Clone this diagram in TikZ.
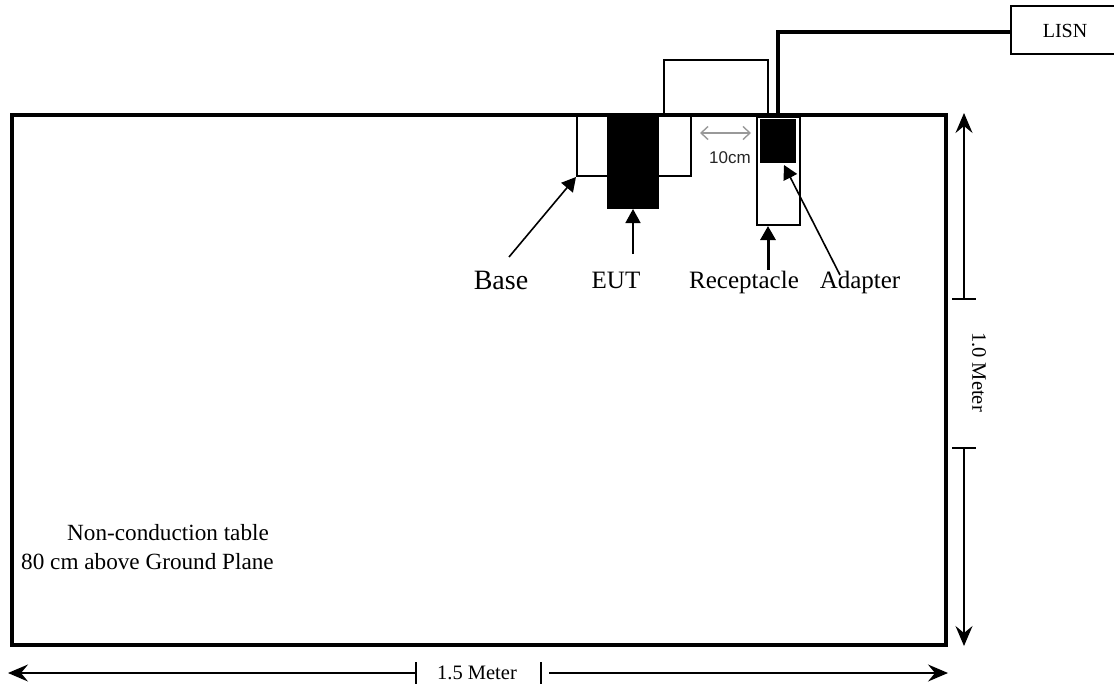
\documentclass[tikz,border=0pt]{standalone}
\usepackage{fontspec}
\setmainfont{Liberation Serif}
\newfontfamily\arialfont{Liberation Sans}
\usetikzlibrary{arrows.meta,calc}
\begin{document}
\begin{tikzpicture}[x=1pt,y=-1pt,
  box/.style={draw, line width=2pt, inner sep=0pt, anchor=north west},
  blk/.style={fill=black, draw=black, line width=1pt, inner sep=0pt, anchor=north west},
  lbl/.style={font=\fontsize{25}{30}\selectfont, inner sep=0pt, anchor=base},
  txt/.style={font=\fontsize{23.2}{27}\selectfont, inner sep=0pt},
  dimtxt/.style={font=\fontsize{20.5}{24}\selectfont, inner sep=0pt},
  ptr/.style={line width=1.6pt, -{Triangle[length=14pt,width=15pt]}},
  dimarrow/.style={line width=1.3pt, -{Stealth[length=20pt,width=17pt,inset=7pt]}},
  tick/.style={line width=1.3pt}]
\useasboundingbox (0,0) rectangle (1114,688);
% table
\node[draw, line width=3.5pt, minimum width=934pt, minimum height=530pt, anchor=north west, inner sep=0pt] (table) at (10,113) {};
% loop over table edge
\draw[line width=2pt] (664,113) |- (768,60) -- (768,113);
% base and EUT
\node[box, minimum width=114pt, minimum height=60pt] (base) at (576,115) {};
\node[blk, minimum width=51pt, minimum height=93pt] (eut) at (607,115) {};
% receptacle and adapter
\node[box, minimum width=43pt, minimum height=108pt] (rec) at (756,116) {};
\node[blk, minimum width=35pt, minimum height=43pt] (adp) at (760,119) {};
% LISN
\node[draw, line width=1.5pt, minimum width=130pt, minimum height=48pt, anchor=north west, inner sep=0pt] (lisnbox) at (1010,5) {};
\node[font=\fontsize{20}{23}\selectfont, inner sep=0pt] (lisn) at (1065,31) {LISN};
\coordinate (cordend) at ($(lisnbox.north west)+(0,27)$);
\draw[line width=3.5pt] (778,113) |- (cordend);
% 10cm
\coordinate (gl) at (700,133);
\coordinate (gr) at (751,133);
\draw[black!40, line width=1.4pt, {Straight Barb[length=7pt,width=13pt]}-{Straight Barb[length=7pt,width=13pt]}] (gl) -- (gr);
\node[font=\arialfont\fontsize{17}{20}\selectfont, text=black!85, inner sep=0pt] (tencm) at (730,158) {10cm};
% labels and pointers
\node[lbl, font=\fontsize{28}{33}\selectfont] (baselbl) at (501,289) {Base};
\node[lbl] (eutlbl) at (616,288) {EUT};
\node[lbl] (reclbl) at (744,288) {Receptacle};
\node[lbl] (adplbl) at (860,288) {Adapter};
\coordinate (bt) at (509,257);
\coordinate (et) at (633,254);
\coordinate (rt) at (768,270);
\coordinate (at) at (840,275);
\draw[ptr] (bt) -- (base.south west);
\draw[ptr] (et) -- (et |- eut.south);
\draw[ptr, line width=3pt] (rt) -- (rt |- rec.south);
\draw[ptr] (at) -- ($(adp.south east)+(-12,2)$);
% table text
\node[txt] (t1) at (168,533) {Non-conduction table};
\node[txt, anchor=west] (t2) at (21,562) {80 cm above Ground Plane};
% vertical dimension
\coordinate (v1) at (964,299);
\coordinate (v2) at (964,448);
\draw[dimarrow] (v1) -- (964,113);
\draw[dimarrow] (v2) -- (964,646);
\draw[tick] ($(v1)+(-12,0)$) -- ($(v1)+(12,0)$);
\draw[tick] ($(v2)+(-12,0)$) -- ($(v2)+(12,0)$);
\node[dimtxt, rotate=-90] (vlbl) at (979,372) {1.0 Meter};
% horizontal dimension
\coordinate (h1) at (416,673);
\coordinate (h2) at (541,673);
\draw[dimarrow] (h1) -- (8,673);
\draw[dimarrow] ($(h2)+(8,0)$) -- (948,673);
\draw[tick] ($(h1)+(0,-11)$) -- ($(h1)+(0,11)$);
\draw[tick] ($(h2)+(0,-11)$) -- ($(h2)+(0,11)$);
\node[dimtxt] (hlbl) at (477,673) {1.5 Meter};
\end{tikzpicture}
\end{document}
